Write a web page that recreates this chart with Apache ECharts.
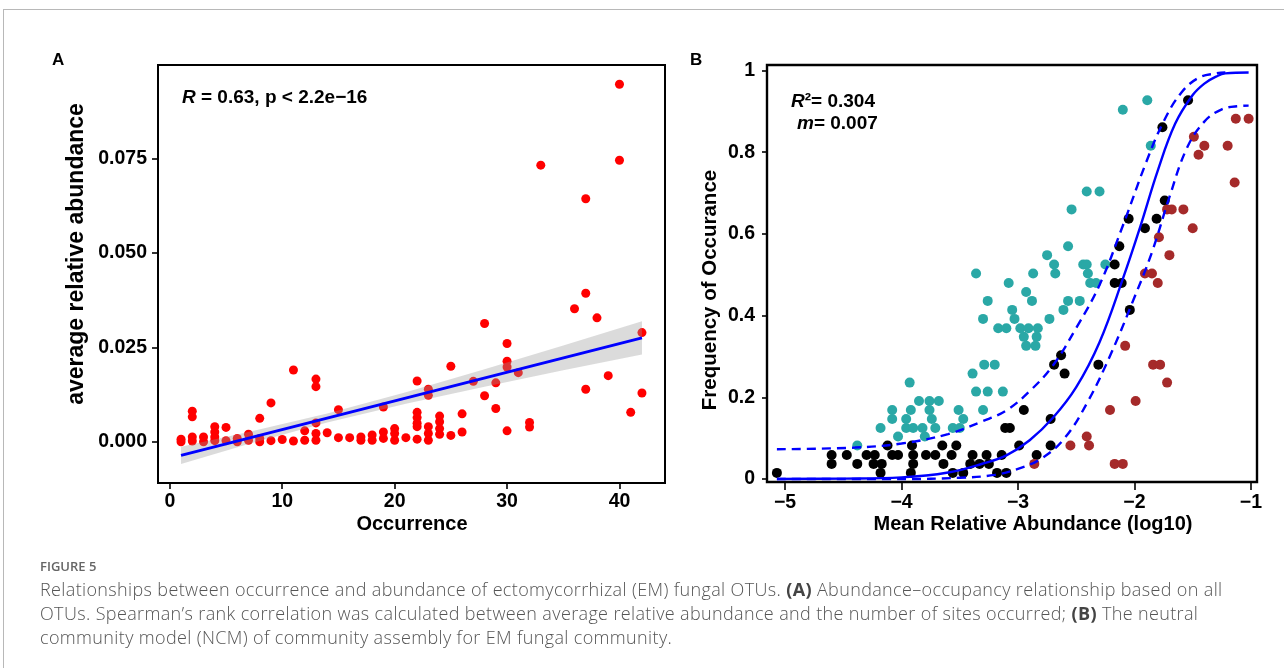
<!DOCTYPE html>
<html>
<head>
<meta charset="utf-8">
<script src="https://cdn.jsdelivr.net/npm/echarts@6/dist/echarts.min.js"></script>
<style>
html,body{margin:0;padding:0;background:#fff;width:1284px;height:668px;overflow:hidden;}
#frame{position:absolute;left:3px;top:9px;width:1290px;height:670px;border-top:1px solid #b8b8b8;border-left:1px solid #b8b8b8;}
#chart{position:absolute;left:0;top:0;width:1284px;height:668px;}
#fig{position:absolute;left:40px;top:560px;font:600 13px/13px 'Open Sans';color:#666;}
#cap{position:absolute;left:40px;top:577px;font:300 18px/24px 'Open Sans';color:#555;white-space:nowrap;letter-spacing:0.36px;}
#cap b{font-weight:700;color:#444;}
</style>
</head>
<body>
<div id="frame"></div>
<div id="chart"></div>
<div id="fig">FIGURE 5</div>
<div id="cap">Relationships between occurrence and abundance of ectomycorrhizal (EM) fungal OTUs. <b>(A)</b> Abundance–occupancy relationship based on all<br>OTUs. Spearman’s rank correlation was calculated between average relative abundance and the number of sites occurred; <b>(B)</b> The neutral<br>community model (NCM) of community assembly for EM fungal community.</div>
<script>
// ---------- Panel A data ----------
const occurrenceA = [
  1,1, 2,2,2,2, 3,3, 4,4,4,4, 5,5, 6,6, 7,7, 8,8,8, 9,9, 10, 11,11, 12,12,
  13,13,13,13,13, 14, 15,15, 16, 17,17, 18,18, 19,19,19, 20,20,20, 21,
  22,22,22,22,22,22, 23,23,23,23,23, 24,24,24,24, 25,25, 26,26, 27, 28,28,
  29,29, 30,30,30,30, 31, 32,32, 33, 36, 37,37,37, 38, 39, 40,40, 41, 42,42
];
const abundanceA = [
  0.0007,0.0000, 0.0081,0.0066,0.0013,0.0002, 0.0013,0.0000, 0.0040,0.0026,0.0013,0.0003,
  0.0038,0.0003, 0.0009,0.0000, 0.0020,0.0004, 0.0062,0.0009,0.0000, 0.0103,0.0003, 0.0006,
  0.0190,0.0002, 0.0029,0.0004, 0.0166,0.0146,0.0050,0.0022,0.0004, 0.0024, 0.0085,0.0011,
  0.0011, 0.0013,0.0004, 0.0018,0.0004, 0.0092,0.0026,0.0009, 0.0035,0.0022,0.0004, 0.0011,
  0.0161,0.0078,0.0064,0.0049,0.0040,0.0007, 0.0139,0.0123,0.0040,0.0022,0.0004,
  0.0068,0.0053,0.0035,0.0020, 0.0200,0.0017, 0.0074,0.0026, 0.0160, 0.0313,0.0122,
  0.0156,0.0088, 0.0260,0.0213,0.0198,0.0029, 0.0183, 0.0051,0.0039, 0.0732, 0.0352,
  0.0643,0.0393,0.0139, 0.0328, 0.0175, 0.0946,0.0745, 0.0078, 0.0289,0.0129
];
const fitX = [1, 42];
const fitY = [-0.0036, 0.0275];
const bandX  = [1, 7, 14, 21, 28, 35, 42];
const bandHi = [-0.0013, 0.0026, 0.0075, 0.0131, 0.0192, 0.0255, 0.0319];
const bandLo = [-0.0059, -0.0006, 0.0051, 0.0101, 0.0146, 0.0189, 0.0231];
const xTicksA = [0, 10, 20, 30, 40];
const yTicksA = [0, 0.025, 0.05, 0.075];

// ---------- Panel B data ----------
const blackX = [-5.07,-4.60,-4.60,-4.47,-4.38,-4.30,-4.23,-4.24,-4.17,-4.18,-4.12,-4.08,-4.03,-3.91,-3.90,-3.90,-3.92,-3.79,-3.71,-3.65,-3.53,-3.57,-3.64,-3.56,-3.47,-3.39,-3.41,-3.33,-3.27,-3.25,-3.18,-3.10,-3.14,-3.11,-3.07,-2.95,-2.99,-2.84,-2.72,-2.72,-2.69,-2.63,-2.60,-2.31,-2.17,-2.13,-2.17,-2.11,-2.05,-2.04,-1.91,-1.81,-1.74,-1.76,-1.54];
const blackY = [0.015,0.059,0.037,0.059,0.037,0.059,0.059,0.037,0.037,0.015,0.082,0.059,0.059,0.082,0.059,0.037,0.015,0.059,0.059,0.082,0.082,0.059,0.037,0.015,0.015,0.059,0.037,0.037,0.059,0.037,0.015,0.015,0.059,0.125,0.125,0.169,0.082,0.059,0.147,0.082,0.280,0.303,0.258,0.280,0.525,0.570,0.480,0.480,0.637,0.414,0.614,0.637,0.682,0.861,0.927];
const tealX = [-4.38,-4.18,-4.08,-4.08,-4.03,-3.96,-3.96,-3.92,-3.93,-3.90,-3.85,-3.76,-3.68,-3.82,-3.80,-3.76,-3.74,-3.71,-3.56,-3.50,-3.51,-3.47,-3.39,-3.36,-3.26,-3.30,-3.29,-3.20,-3.13,-3.36,-3.30,-3.26,-3.17,-3.10,-3.08,-3.05,-3.03,-2.98,-2.91,-2.83,-2.95,-2.93,-2.85,-2.84,-2.93,-2.88,-2.87,-2.73,-2.75,-2.69,-2.68,-2.61,-2.57,-2.47,-2.57,-2.54,-2.44,-2.41,-2.40,-2.38,-2.33,-2.41,-2.30,-2.25,-2.10,-1.89,-1.86];
const tealY = [0.082,0.125,0.169,0.147,0.104,0.147,0.125,0.169,0.236,0.125,0.191,0.191,0.191,0.125,0.104,0.169,0.147,0.125,0.125,0.125,0.169,0.147,0.258,0.214,0.214,0.169,0.280,0.280,0.214,0.503,0.392,0.436,0.369,0.369,0.480,0.414,0.392,0.369,0.369,0.369,0.348,0.326,0.326,0.348,0.458,0.436,0.503,0.392,0.548,0.525,0.503,0.414,0.436,0.436,0.570,0.660,0.525,0.525,0.503,0.480,0.480,0.704,0.704,0.525,0.904,0.927,0.816];
const redX = [-2.86,-2.55,-2.41,-2.39,-2.21,-2.17,-2.10,-2.08,-1.99,-1.84,-1.78,-1.72,-1.91,-1.85,-1.80,-1.79,-1.70,-1.72,-1.68,-1.58,-1.50,-1.49,-1.45,-1.40,-1.20,-1.14,-1.13,-1.02];
const redY = [0.037,0.082,0.104,0.082,0.169,0.037,0.037,0.326,0.191,0.280,0.280,0.236,0.503,0.503,0.480,0.592,0.548,0.660,0.660,0.660,0.614,0.838,0.794,0.816,0.816,0.726,0.882,0.882];
const ncmX = [-5.07,-4.50,-4.00,-3.60,-3.30,-3.10,-2.90,-2.70,-2.50,-2.30,-2.10,-1.95,-1.80,-1.65,-1.50,-1.40,-1.30,-1.22,-1.02];
const ncmY = [0.000,0.001,0.004,0.016,0.038,0.058,0.095,0.150,0.225,0.335,0.490,0.618,0.755,0.870,0.940,0.968,0.985,0.993,0.995];
const upX = [-5.07,-4.40,-4.00,-3.60,-3.30,-3.10,-2.90,-2.70,-2.50,-2.30,-2.10,-1.90,-1.75,-1.60,-1.45,-1.30,-1.22];
const upY = [0.073,0.077,0.087,0.110,0.142,0.168,0.215,0.278,0.370,0.475,0.620,0.775,0.875,0.945,0.982,0.993,0.995];
const loX = [-5.07,-4.00,-3.50,-3.20,-3.00,-2.80,-2.60,-2.40,-2.20,-2.00,-1.85,-1.70,-1.55,-1.40,-1.25,-1.10,-1.02];
const loY = [0.000,0.000,0.003,0.010,0.025,0.050,0.100,0.190,0.308,0.445,0.555,0.690,0.810,0.875,0.905,0.913,0.914];
const xTicksB = [-5, -4, -3, -2, -1];
const yTicksB = [0, 0.2, 0.4, 0.6, 0.8, 1];

const zip = (a, b) => a.map((v, i) => [v, b[i]]);
const FONT = "'Liberation Sans', Arial, sans-serif";
const lab = (extra) => Object.assign({color:'#000', fontFamily:FONT, fontWeight:'bold', fontSize:19.5}, extra);
const tick = (vals, len) => ({show:true, inside:false, length:len, customValues:vals, lineStyle:{color:'#000', width:1.6}});
const noLine = {show:false, onZero:false};

const chart = echarts.init(document.getElementById('chart'), null, {renderer:'canvas'});
chart.setOption({
  animation:false,
  backgroundColor:'transparent',
  grid:[
    {left:158, top:65, width:507, height:418, show:true, borderColor:'#000', borderWidth:2, backgroundColor:'transparent'},
    {left:767, top:65, width:490, height:417, show:true, borderColor:'#000', borderWidth:2.4, backgroundColor:'transparent'}
  ],
  xAxis:[
    {type:'value', gridIndex:0, min:-1.05, max:44.05, axisLine:noLine, splitLine:{show:false},
     axisTick:tick(xTicksA,6), axisLabel:lab({customValues:xTicksA, margin:9})},
    {type:'value', gridIndex:1, min:-5.155, max:-0.948, axisLine:noLine, splitLine:{show:false},
     axisTick:tick(xTicksB,8), axisLabel:lab({customValues:xTicksB, margin:11, formatter:v=>String(v).replace('-','\u2212')})}
  ],
  yAxis:[
    {type:'value', gridIndex:0, min:-0.0109, max:0.0997, axisLine:noLine, splitLine:{show:false},
     axisTick:tick(yTicksA,6), axisLabel:lab({customValues:yTicksA, margin:11, formatter:v=>v.toFixed(3)})},
    {type:'value', gridIndex:1, min:-0.0073, max:1.0135, axisLine:noLine, splitLine:{show:false},
     axisTick:tick(yTicksB,5), axisLabel:lab({customValues:yTicksB, margin:12, formatter:v=>(v===0?'0':v===1?'1':v.toFixed(1))})}
  ],
  series:[
    {type:'scatter', xAxisIndex:0, yAxisIndex:0, data:zip(occurrenceA, abundanceA), symbolSize:9,
     itemStyle:{color:'#FF0000', opacity:1}, z:2, silent:true},
    {type:'custom', xAxisIndex:0, yAxisIndex:0, data:[[bandX[0], bandLo[0]]], z:3, silent:true,
     renderItem:function(params, api){
       const pts = [];
       for (let i = 0; i < bandX.length; i++) pts.push(api.coord([bandX[i], bandHi[i]]));
       for (let i = bandX.length - 1; i >= 0; i--) pts.push(api.coord([bandX[i], bandLo[i]]));
       return {type:'polygon', shape:{points:pts}, style:{fill:'rgba(153,153,153,0.35)'}};
     }},
    {type:'line', xAxisIndex:0, yAxisIndex:0, data:zip(fitX, fitY), symbol:'none', z:4, silent:true,
     lineStyle:{color:'#0000FF', width:3}},

    {type:'scatter', xAxisIndex:1, yAxisIndex:1, data:zip(tealX, tealY), symbolSize:10, itemStyle:{color:'#2AA8A6', opacity:1}, z:2, silent:true},
    {type:'scatter', xAxisIndex:1, yAxisIndex:1, data:zip(blackX, blackY), symbolSize:10, itemStyle:{color:'#000000', opacity:1}, z:2, silent:true},
    {type:'scatter', xAxisIndex:1, yAxisIndex:1, data:zip(redX, redY), symbolSize:10, itemStyle:{color:'#A52A2A', opacity:1}, z:2, silent:true},
    {type:'line', xAxisIndex:1, yAxisIndex:1, data:zip(ncmX, ncmY), symbol:'none', smooth:0.4, z:4, silent:true,
     lineStyle:{color:'#0000FF', width:2.4}},
    {type:'line', xAxisIndex:1, yAxisIndex:1, data:zip(upX, upY), symbol:'none', smooth:0.4, z:4, silent:true,
     lineStyle:{color:'#0000FF', width:2.4, type:[9,6]}},
    {type:'line', xAxisIndex:1, yAxisIndex:1, data:zip(loX, loY), symbol:'none', smooth:0.4, z:4, silent:true,
     lineStyle:{color:'#0000FF', width:2.4, type:[9,6]}}
  ],
  graphic:[
    {type:'text', left:52, top:52, style:{text:'A', font:"bold 17px "+FONT, fill:'#000'}},
    {type:'text', left:690, top:52, style:{text:'B', font:"bold 17px "+FONT, fill:'#000'}},
    {type:'text', x:412, y:524, style:{text:'Occurrence', font:"bold 20px "+FONT, fill:'#000', align:'center', verticalAlign:'middle'}},
    {type:'text', x:77, y:254, rotation:Math.PI/2, style:{text:'average relative abundance', font:"bold 23px "+FONT, fill:'#000', align:'center', verticalAlign:'middle'}},
    {type:'text', x:1033, y:524, style:{text:'Mean Relative Abundance (log10)', font:"bold 20px "+FONT, fill:'#000', align:'center', verticalAlign:'middle'}},
    {type:'text', x:710, y:290, rotation:Math.PI/2, style:{text:'Frequency of Occurance', font:"bold 20.5px "+FONT, fill:'#000', align:'center', verticalAlign:'middle'}},
    {type:'text', x:182, y:98, style:{text:'{i|R} = 0.63, p < 2.2e\u221216', font:"bold 19px "+FONT, fill:'#000', verticalAlign:'middle',
      rich:{i:{font:"italic bold 19px "+FONT, fill:'#000'}}}},
    {type:'text', x:791, y:102, style:{text:'{i|R}\u00b2= 0.304', font:"bold 19px "+FONT, fill:'#000', verticalAlign:'middle',
      rich:{i:{font:"italic bold 19px "+FONT, fill:'#000'}}}},
    {type:'text', x:797, y:124, style:{text:'{i|m}= 0.007', font:"bold 19px "+FONT, fill:'#000', verticalAlign:'middle',
      rich:{i:{font:"italic bold 19px "+FONT, fill:'#000'}}}}
  ]
});
</script>
</body>
</html>
